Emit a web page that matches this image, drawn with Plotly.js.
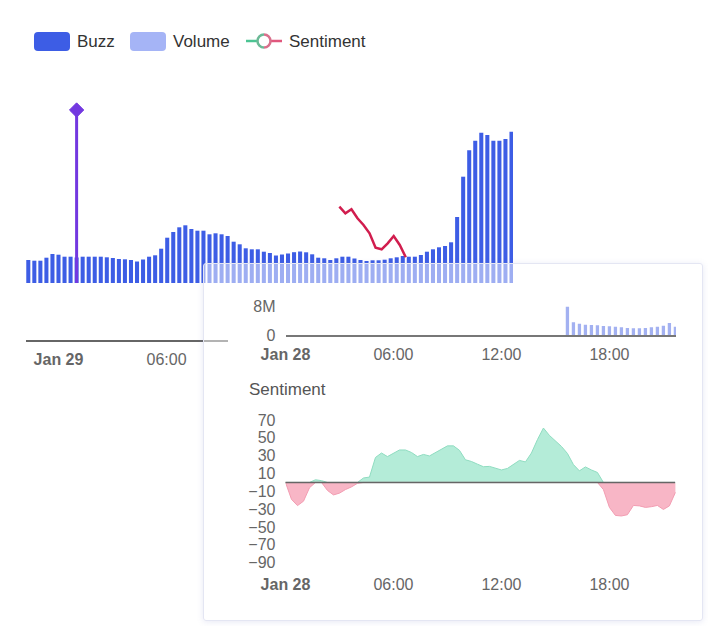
<!DOCTYPE html>
<html><head><meta charset="utf-8">
<script src="https://cdn.plot.ly/plotly-3.0.1.min.js"></script>
<style>
html,body{margin:0;padding:0;background:#fff;}
#main{position:absolute;left:0;top:0;width:708px;height:626px;}
#panel{position:absolute;left:203px;top:263px;width:500px;height:358px;box-sizing:border-box;border:1px solid #e4e6f3;border-radius:3px;background:rgba(255,255,255,0.5);box-shadow:0 1px 6px rgba(110,120,190,0.16);}
#inset{position:absolute;left:0;top:0;width:498px;height:356px;}
</style></head><body>
<div id="main"></div>
<div id="panel"><div id="inset"></div></div>
<script>
// ---------------- DATA ----------------
// Main chart: buzz per 20-min bucket (index 0 = Jan 28 22:20)
const buzz = [23,22.3,22.3,25.3,29,28.3,26.3,26.3,25.5,26.3,
  26.3,26.3,26.3,25.7,25,24,23.7,23,21.5,23.5,
  26.3,27.7,34.3,45.3,51,55.7,57.7,54,52.3,52.3,
  48.7,49.7,48.7,47,41.3,38.7,34.7,33.7,33.7,31.3,
  30,27.5,28.5,29.5,30.8,31.5,30.7,28.7,25.3,24.7,
  23,24.7,26.3,26.3,24.5,23,22,22.7,22.7,23.3,
  24.7,25.7,27,26.3,26.3,28,31.3,33.7,35.7,37,
  40.7,66,106.3,132.7,142.3,150.3,148,142.3,142.3,144,151.3];
const eventIndex = [8, 8];
const eventValue = [0, 173];
const sentLineX = [51.5,52.5,53.5,54.5,55.5,56.5,57.5,58.5,59.5,60.5,61.5,62.5];
const sentLineY = [76.3,69.7,73.7,64.7,58,49.7,35.3,33.7,39.7,47,38,25.7];
const mainTickVals = ['2024-01-29 00:00','2024-01-29 06:00'];
const mainTickText = ['<b>Jan 29</b>','06:00'];

// Inset: volume (Jan 28)
const volTimes = ['15:40','16:00','16:20','16:40','17:00','17:20','17:40','18:00','18:20','18:40',
  '19:00','19:20','19:40','20:00','20:20','20:40','21:00','21:20','21:40'];
const volume = [7.8e6,3.5e6,3.1e6,2.85e6,2.76e6,2.68e6,2.48e6,2.4e6,2.29e6,2.12e6,
  1.93e6,1.85e6,1.85e6,1.93e6,2.12e6,2.29e6,2.57e6,3.31e6,2.29e6];

// Inset: sentiment (Jan 28, every 20 min)
const sentTimes = ['00:00','00:20','00:40','01:00','01:20','01:40','02:00','02:20','02:40','03:00',
  '03:20','03:40','04:00','04:20','04:40','05:00','05:20','05:40','06:00','06:20',
  '06:40','07:00','07:20','07:40','08:00','08:20','08:40','09:00','09:20','09:40',
  '10:00','10:20','10:40','11:00','11:20','11:40','12:00','12:20','12:40','13:00',
  '13:20','13:40','14:00','14:20','14:40','15:00','15:20','15:40','16:00','16:20',
  '16:40','17:00','17:20','17:40','18:00','18:20','18:40','19:00','19:20','19:40',
  '20:00','20:20','20:40','21:00','21:20','21:40'];
const sentiment = [0,-19,-26,-21,-6,3,2,-9,-14,-12,
  -8,-5,-1,5,6,28,33,29,32.5,36.4,
  36.4,33.6,29,31.4,29.7,33.6,37,41,41,36,
  25.4,23.5,20.5,17.6,18,16.3,14,15.7,20,24.7,
  23,33,48,61,52.7,46.5,40.4,32.5,20,13,
  17.4,14,11.2,-8,-28,-37,-37.6,-36.2,-25.8,-26.3,
  -28,-27.2,-25.8,-30.3,-26.3,-11.2];
const insetTickVals = ['2024-01-28 00:00','2024-01-28 06:00','2024-01-28 12:00','2024-01-28 18:00'];
const insetTickText = ['<b>Jan 28</b>','06:00','12:00','18:00'];
const volTickVals = [0, 8e6];
const volTickText = ['0','8M'];
const sentTickVals = [70,50,30,10,-10,-30,-50,-70,-90];

const legendItems = ['Buzz','Volume','Sentiment'];

// ---------------- STYLE ----------------
const FONT = '"Liberation Sans", Arial, Helvetica, sans-serif';
const C = {buzz:'#3d5de5', vol:'#a5b4f6', event:'#7338e0', sentLine:'#d11d4e',
  posFill:'#b4ecd8', posLine:'#8fdcc0', negFill:'#f8b6c6', negLine:'#f29db2',
  axis:'#666', tick:'#666', text:'#333'};

// ---------------- MAIN CHART ----------------
const W = 708, H = 626;
const px = x => x / W, py = y => 1 - y / H;

function roundRect(x0, y0, x1, y1, r) {
  const P = (x, y) => px(x).toFixed(5) + ',' + py(y).toFixed(5);
  return 'M' + P(x0 + r, y0) + ' L' + P(x1 - r, y0) + ' Q' + P(x1, y0) + ' ' + P(x1, y0 + r) +
    ' L' + P(x1, y1 - r) + ' Q' + P(x1, y1) + ' ' + P(x1 - r, y1) +
    ' L' + P(x0 + r, y1) + ' Q' + P(x0, y1) + ' ' + P(x0, y1 - r) +
    ' L' + P(x0, y0 + r) + ' Q' + P(x0, y0) + ' ' + P(x0 + r, y0) + ' Z';
}
function halfCircle(cx, cy, r, side) {
  const k = 0.5523 * r, s = side;
  const P = (x, y) => px(x).toFixed(5) + ',' + py(y).toFixed(5);
  return 'M' + P(cx, cy - r) + ' C' + P(cx + s * k, cy - r) + ' ' + P(cx + s * r, cy - k) + ' ' + P(cx + s * r, cy) +
    ' C' + P(cx + s * r, cy + k) + ' ' + P(cx + s * k, cy + r) + ' ' + P(cx, cy + r);
}

const mainTraces = [
  {type:'bar', y: buzz, marker:{color: C.buzz}, hoverinfo:'skip', xaxis:'x', yaxis:'y'},
  {type:'scatter', x: eventIndex, y: eventValue, mode:'lines',
   line:{color: C.event, width:3}, xaxis:'x', yaxis:'y'},
  {type:'scatter', x: eventIndex.slice(1), y: eventValue.slice(1), mode:'markers',
   marker:{symbol:'diamond', size:11, color: C.event, opacity:1, line:{color: C.event, width:1}}, xaxis:'x', yaxis:'y'},
  {type:'scatter', x: sentLineX, y: sentLineY, mode:'lines',
   line:{color: C.sentLine, width:2.5}, xaxis:'x', yaxis:'y'},
  {type:'scatter', x: [], y: [], xaxis:'x2', yaxis:'y2'}
];

const legendShapes = [
  {type:'path', xref:'paper', yref:'paper', path: roundRect(34,32,70,51,4), fillcolor: C.buzz, line:{width:0}},
  {type:'path', xref:'paper', yref:'paper', path: roundRect(130,32,166,51,4), fillcolor: C.vol, line:{width:0}},
  {type:'line', xref:'paper', yref:'paper', x0:px(246), x1:px(257.5), y0:py(41), y1:py(41), line:{color:'#4cc493', width:2.5}},
  {type:'line', xref:'paper', yref:'paper', x0:px(270.5), x1:px(282), y0:py(41), y1:py(41), line:{color:'#e0577d', width:2.5}},
  {type:'path', xref:'paper', yref:'paper', path: halfCircle(264,41,6.5,-1), line:{color:'#6bb996', width:2.5}},
  {type:'path', xref:'paper', yref:'paper', path: halfCircle(264,41,6.5,1), line:{color:'#d8708c', width:2.5}}
];
const legendX = [75, 171, 287];
const legendAnn = legendItems.map((t, i) => ({
  text: t, xref:'paper', yref:'paper', x: px(legendX[i]), y: py(41.5),
  xanchor:'left', yanchor:'middle', showarrow:false, font:{family:FONT, size:17, color:C.text}
}));

const mainLayout = {
  width: W, height: H, margin:{l:0,r:0,t:0,b:0},
  paper_bgcolor:'#fff', plot_bgcolor:'rgba(0,0,0,0)',
  showlegend:false, bargap:0.33,
  font:{family:FONT},
  xaxis:{domain:[px(26), px(513)], range:[-0.38, 80.25], visible:false, fixedrange:true},
  yaxis:{domain:[py(283), py(100)], range:[0,183], visible:false, fixedrange:true},
  xaxis2:{type:'date', domain:[px(26), px(228)], range:['2024-01-28 22:11:40','2024-01-29 09:25'],
    anchor:'y2', showline:true, linecolor:C.axis, linewidth:1.5, ticks:'', showgrid:false, zeroline:false,
    tickvals: mainTickVals, ticktext: mainTickText, tickfont:{family:FONT, size:16, color:C.tick},
    ticklabelstandoff:4},
  yaxis2:{domain:[py(340), py(335)], anchor:'x2', visible:false, range:[0,1]},
  shapes: legendShapes,
  annotations: legendAnn
};
Plotly.newPlot('main', mainTraces, mainLayout, {staticPlot:true});

// ---------------- INSET PANEL ----------------
const W2 = 498, H2 = 356, OX = 204, OY = 264;
const qx = x => (x - OX) / W2, qy = y => 1 - (y - OY) / H2;
const day = '2024-01-28 ';
const posVals = sentiment.map(v => v > 0 ? v : 0);
const negVals = sentiment.map(v => v < 0 ? v : 0);
const sentX = sentTimes.map(t => day + t);

const insetTraces = [
  {type:'bar', x: volTimes.map(t => day + t), y: volume, width: 660000,
   marker:{color:'#a3b1f1'}, xaxis:'x', yaxis:'y'},
  {type:'scatter', x: sentX, y: posVals, mode:'lines', fill:'tozeroy',
   fillcolor: C.posFill, line:{color: C.posLine, width:1}, xaxis:'x2', yaxis:'y2'},
  {type:'scatter', x: sentX, y: negVals, mode:'lines', fill:'tozeroy',
   fillcolor: C.negFill, line:{color: C.negLine, width:1}, xaxis:'x2', yaxis:'y2'}
];
const xDom = [qx(285.5), qx(676)];
const xRange = ['2024-01-28 00:00','2024-01-28 21:42'];
const tickFont = {family:FONT, size:16, color:C.tick};
const insetLayout = {
  width: W2, height: H2, margin:{l:0,r:0,t:0,b:0},
  paper_bgcolor:'rgba(0,0,0,0)', plot_bgcolor:'rgba(0,0,0,0)',
  showlegend:false, font:{family:FONT},
  xaxis:{type:'date', domain:xDom, range:xRange, anchor:'y', showline:true, linecolor:'#777', linewidth:2,
    ticks:'', showgrid:false, zeroline:false, tickvals: insetTickVals, ticktext: insetTickText,
    tickfont: tickFont, ticklabelstandoff:4},
  yaxis:{domain:[qy(335), qy(306)], range:[0, 8e6], tickvals: volTickVals, ticktext: volTickText,
    ticks:'', showgrid:false, zeroline:false, showline:false, tickfont: tickFont, ticklabelstandoff:9},
  xaxis2:{type:'date', domain:xDom, range:xRange, anchor:'y2', showline:false,
    ticks:'', showgrid:false, zeroline:false, tickvals: insetTickVals, ticktext: insetTickText,
    tickfont: tickFont, ticklabelstandoff:10},
  yaxis2:{domain:[qy(562.7), qy(420)], range:[-90, 70], tickvals: sentTickVals,
    ticks:'', showgrid:false, zeroline:false, showline:false, tickfont: tickFont, ticklabelstandoff:9},
  shapes:[
    {type:'line', xref:'paper', yref:'y2', x0:xDom[0], x1:qx(675), y0:0, y1:0, line:{color:'#666', width:1.5}, layer:'above'}
  ],
  annotations:[
    {text:'Sentiment', xref:'paper', yref:'paper', x: qx(247), y: qy(389), xanchor:'left', yanchor:'middle',
     showarrow:false, font:{family:FONT, size:17, color:'#555'}}
  ]
};
Plotly.newPlot('inset', insetTraces, insetLayout, {staticPlot:true});
</script></body></html>
